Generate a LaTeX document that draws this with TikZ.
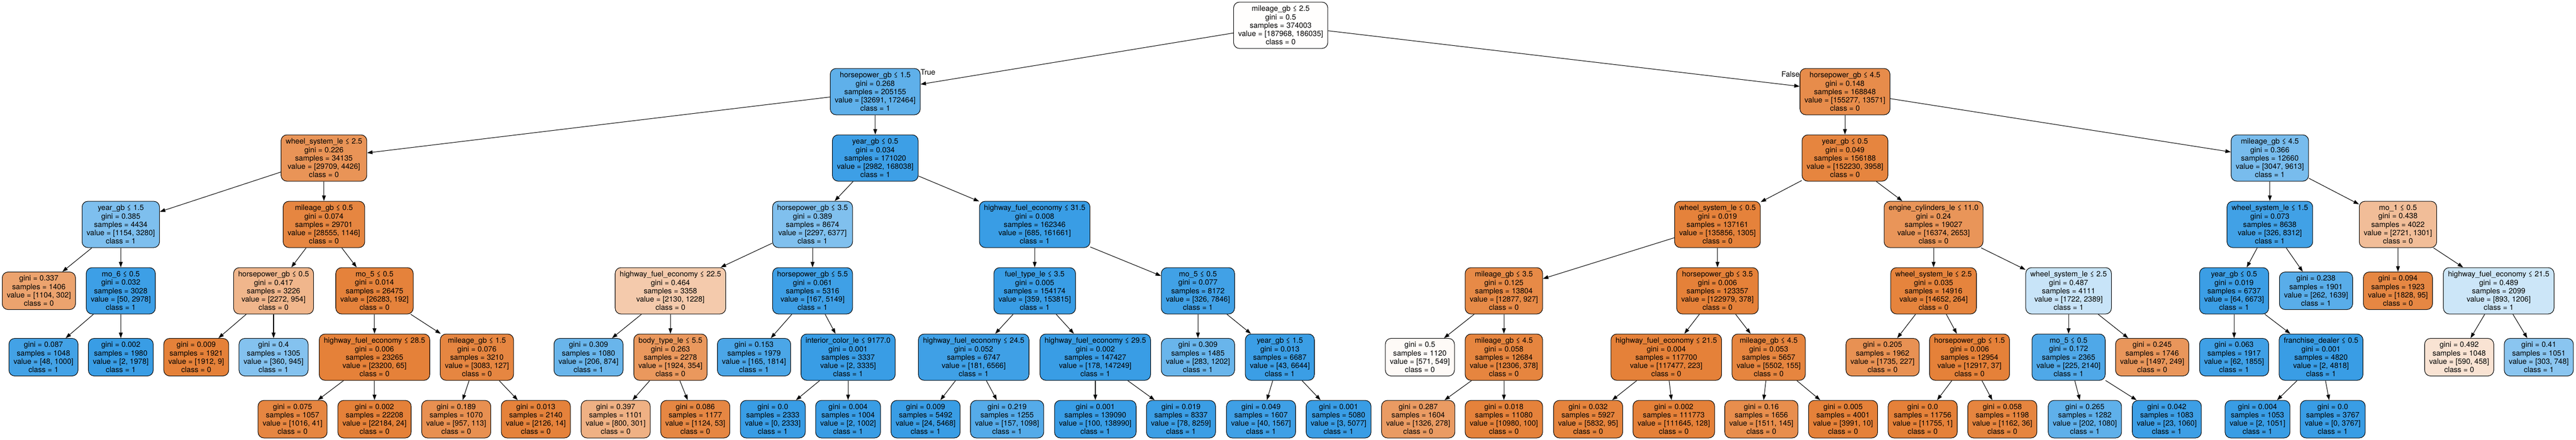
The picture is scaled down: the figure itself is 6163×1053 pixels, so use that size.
\documentclass[tikz,border=0pt]{standalone}
\usepackage{fontspec}
\setmainfont{TeX Gyre Heros}
\usetikzlibrary{positioning, arrows.meta}
\definecolor{clsA}{RGB}{229,129,57}
\definecolor{clsB}{RGB}{57,157,229}

\begin{document}
\begin{tikzpicture}
	[node distance=159pt]

	\tikzstyle{splitbox} = [rectangle, rounded corners=14pt, minimum height=111pt, inner xsep=11pt, inner ysep=2pt, align=center, draw=black, line width=1.3pt, text=black, font=\fontsize{18pt}{20pt}\selectfont]

	\tikzstyle{leafbox} = [splitbox, minimum height=90pt]

	\tikzstyle{lbl} = [inner sep=0pt, font=\fontsize{18pt}{20pt}\selectfont]

	\tikzstyle{arrow} = [line width=1.3pt, ->, >={Triangle[length=13pt,width=9pt]}]

	\useasboundingbox (0,0) rectangle (6163pt,-1053pt);

	% root and first split
	\node (root) [splitbox, fill=clsA!1!white] at (3064pt,-60.5pt) {mileage\_gb ≤ 2.5\\gini = 0.5\\samples = 374003\\value = [187968, 186035]\\class = 0};
	\node (hpA) [splitbox, fill=clsB!81!white, below of=root, xshift=-970pt] {horsepower\_gb ≤ 1.5\\gini = 0.268\\samples = 205155\\value = [32691, 172464]\\class = 1};
	\node (hpB) [splitbox, fill=clsA!91!white, below of=root, xshift=1350pt] {horsepower\_gb ≤ 4.5\\gini = 0.148\\samples = 168848\\value = [155277, 13571]\\class = 0};

	% depth 2
	\node (wsA) [splitbox, fill=clsA!85!white, below of=hpA, xshift=-1319pt] {wheel\_system\_le ≤ 2.5\\gini = 0.226\\samples = 34135\\value = [29709, 4426]\\class = 0};
	\node (yrA) [splitbox, fill=clsB!98!white, below of=hpA] {year\_gb ≤ 0.5\\gini = 0.034\\samples = 171020\\value = [2982, 168038]\\class = 1};
	\node (yrB) [splitbox, fill=clsA!97!white, below of=hpB] {year\_gb ≤ 0.5\\gini = 0.049\\samples = 156188\\value = [152230, 3958]\\class = 0};
	\node (mgA) [splitbox, fill=clsB!68!white, below of=hpB, xshift=1016.5pt] {mileage\_gb ≤ 4.5\\gini = 0.366\\samples = 12660\\value = [3047, 9613]\\class = 1};

	% depth 3
	\node (yrC) [splitbox, fill=clsB!65!white, below of=wsA, xshift=-486pt] {year\_gb ≤ 1.5\\gini = 0.385\\samples = 4434\\value = [1154, 3280]\\class = 1};
	\node (mgB) [splitbox, fill=clsA!96!white, below of=wsA] {mileage\_gb ≤ 0.5\\gini = 0.074\\samples = 29701\\value = [28555, 1146]\\class = 0};
	\node (hpC) [splitbox, fill=clsB!64!white, below of=yrA, xshift=-150pt] {horsepower\_gb ≤ 3.5\\gini = 0.389\\samples = 8674\\value = [2297, 6377]\\class = 1};
	\node (hwA) [splitbox, fill=clsB!100!white, below of=yrA, xshift=381.5pt] {highway\_fuel\_economy ≤ 31.5\\gini = 0.008\\samples = 162346\\value = [685, 161661]\\class = 1};
	\node (wsB) [splitbox, fill=clsA!99!white, below of=yrB, xshift=-305pt] {wheel\_system\_le ≤ 0.5\\gini = 0.019\\samples = 137161\\value = [135856, 1305]\\class = 0};
	\node (ecA) [splitbox, fill=clsA!84!white, below of=yrB, xshift=212pt] {engine\_cylinders\_le ≤ 11.0\\gini = 0.24\\samples = 19027\\value = [16374, 2653]\\class = 0};
	\node (wsC) [splitbox, fill=clsB!96!white, below of=mgA] {wheel\_system\_le ≤ 1.5\\gini = 0.073\\samples = 8638\\value = [326, 8312]\\class = 1};
	\node (moA) [splitbox, fill=clsA!52!white, below of=mgA, xshift=306.5pt] {mo\_1 ≤ 0.5\\gini = 0.438\\samples = 4022\\value = [2721, 1301]\\class = 0};

	% depth 4
	\node (lf1406) [leafbox, fill=clsA!73!white, below of=yrC, xshift=-196pt] {gini = 0.337\\samples = 1406\\value = [1104, 302]\\class = 0};
	\node (moB) [splitbox, fill=clsB!98!white, below of=yrC] {mo\_6 ≤ 0.5\\gini = 0.032\\samples = 3028\\value = [50, 2978]\\class = 1};
	\node (hpD) [splitbox, fill=clsA!58!white, below of=mgB, xshift=-120.5pt] {horsepower\_gb ≤ 0.5\\gini = 0.417\\samples = 3226\\value = [2272, 954]\\class = 0};
	\node (moC) [splitbox, fill=clsA!99!white, below of=mgB, xshift=121pt] {mo\_5 ≤ 0.5\\gini = 0.014\\samples = 26475\\value = [26283, 192]\\class = 0};
	\node (hwB) [splitbox, fill=clsA!42!white, below of=hpC, xshift=-340pt] {highway\_fuel\_economy ≤ 22.5\\gini = 0.464\\samples = 3358\\value = [2130, 1228]\\class = 0};
	\node (hpE) [splitbox, fill=clsB!97!white, below of=hpC] {horsepower\_gb ≤ 5.5\\gini = 0.061\\samples = 5316\\value = [167, 5149]\\class = 1};
	\node (ftA) [splitbox, fill=clsB!100!white, below of=hwA] {fuel\_type\_le ≤ 3.5\\gini = 0.005\\samples = 154174\\value = [359, 153815]\\class = 1};
	\node (moD) [splitbox, fill=clsB!96!white, below of=hwA, xshift=390.5pt] {mo\_5 ≤ 0.5\\gini = 0.077\\samples = 8172\\value = [326, 7846]\\class = 1};
	\node (mgC) [splitbox, fill=clsA!93!white, below of=wsB, xshift=-511pt] {mileage\_gb ≤ 3.5\\gini = 0.125\\samples = 13804\\value = [12877, 927]\\class = 0};
	\node (hpF) [splitbox, fill=clsA!100!white, below of=wsB] {horsepower\_gb ≤ 3.5\\gini = 0.006\\samples = 123357\\value = [122979, 378]\\class = 0};
	\node (wsD) [splitbox, fill=clsA!98!white, below of=ecA] {wheel\_system\_le ≤ 2.5\\gini = 0.035\\samples = 14916\\value = [14652, 264]\\class = 0};
	\node (wsE) [splitbox, fill=clsB!28!white, below of=ecA, xshift=323pt] {wheel\_system\_le ≤ 2.5\\gini = 0.487\\samples = 4111\\value = [1722, 2389]\\class = 1};
	\node (yrD) [splitbox, fill=clsB!99!white, below of=wsC, xshift=-85.5pt] {year\_gb ≤ 0.5\\gini = 0.019\\samples = 6737\\value = [64, 6673]\\class = 1};
	\node (lf1901) [leafbox, fill=clsB!84!white, below of=wsC, xshift=110.5pt] {gini = 0.238\\samples = 1901\\value = [262, 1639]\\class = 1};
	\node (lf1923) [leafbox, fill=clsA!95!white, below of=moA] {gini = 0.094\\samples = 1923\\value = [1828, 95]\\class = 0};
	\node (hwC) [splitbox, fill=clsB!26!white, below of=moA, xshift=241pt] {highway\_fuel\_economy ≤ 21.5\\gini = 0.489\\samples = 2099\\value = [893, 1206]\\class = 1};

	% depth 5
	\node (lf1048a) [leafbox, fill=clsB!95!white, below of=moB, xshift=-185pt] {gini = 0.087\\samples = 1048\\value = [48, 1000]\\class = 1};
	\node (lf1980) [leafbox, fill=clsB!100!white, below of=moB] {gini = 0.002\\samples = 1980\\value = [2, 1978]\\class = 1};
	\node (lf1921) [leafbox, fill=clsA!100!white, below of=hpD, xshift=-185pt] {gini = 0.009\\samples = 1921\\value = [1912, 9]\\class = 0};
	\node (lf1305) [leafbox, fill=clsB!62!white, below of=hpD] {gini = 0.4\\samples = 1305\\value = [360, 945]\\class = 1};
	\node (hwD) [splitbox, fill=clsA!100!white, below of=moC] {highway\_fuel\_economy ≤ 28.5\\gini = 0.006\\samples = 23265\\value = [23200, 65]\\class = 0};
	\node (mgD) [splitbox, fill=clsA!96!white, below of=moC, xshift=245pt] {mileage\_gb ≤ 1.5\\gini = 0.076\\samples = 3210\\value = [3083, 127]\\class = 0};
	\node (lf1080) [leafbox, fill=clsB!76!white, below of=hwB, xshift=-196pt] {gini = 0.309\\samples = 1080\\value = [206, 874]\\class = 1};
	\node (btA) [splitbox, fill=clsA!82!white, below of=hwB] {body\_type\_le ≤ 5.5\\gini = 0.263\\samples = 2278\\value = [1924, 354]\\class = 0};
	\node (lf1979) [leafbox, fill=clsB!91!white, below of=hpE, xshift=-140pt] {gini = 0.153\\samples = 1979\\value = [165, 1814]\\class = 1};
	\node (icA) [splitbox, fill=clsB!100!white, below of=hpE, xshift=85pt] {interior\_color\_le ≤ 9177.0\\gini = 0.001\\samples = 3337\\value = [2, 3335]\\class = 1};
	\node (hwE) [splitbox, fill=clsB!97!white, below of=ftA, xshift=-146pt] {highway\_fuel\_economy ≤ 24.5\\gini = 0.052\\samples = 6747\\value = [181, 6566]\\class = 1};
	\node (hwF) [splitbox, fill=clsB!100!white, below of=ftA, xshift=145pt] {highway\_fuel\_economy ≤ 29.5\\gini = 0.002\\samples = 147427\\value = [178, 147249]\\class = 1};
	\node (lf1485) [leafbox, fill=clsB!76!white, below of=moD] {gini = 0.309\\samples = 1485\\value = [283, 1202]\\class = 1};
	\node (yrE) [splitbox, fill=clsB!99!white, below of=moD, xshift=196pt] {year\_gb ≤ 1.5\\gini = 0.013\\samples = 6687\\value = [43, 6644]\\class = 1};
	\node (lf1120) [leafbox, fill=clsA!4!white, below of=mgC, xshift=-201pt] {gini = 0.5\\samples = 1120\\value = [571, 549]\\class = 0};
	\node (mgE) [splitbox, fill=clsA!97!white, below of=mgC] {mileage\_gb ≤ 4.5\\gini = 0.058\\samples = 12684\\value = [12306, 378]\\class = 0};
	\node (hwG) [splitbox, fill=clsA!100!white, below of=hpF, xshift=-122.5pt] {highway\_fuel\_economy ≤ 21.5\\gini = 0.004\\samples = 117700\\value = [117477, 223]\\class = 0};
	\node (mgF) [splitbox, fill=clsA!97!white, below of=hpF, xshift=122.5pt] {mileage\_gb ≤ 4.5\\gini = 0.053\\samples = 5657\\value = [5502, 155]\\class = 0};
	\node (lf1962) [leafbox, fill=clsA!87!white, below of=wsD, xshift=-122pt] {gini = 0.205\\samples = 1962\\value = [1735, 227]\\class = 0};
	\node (hpG) [splitbox, fill=clsA!100!white, below of=wsD, xshift=86pt] {horsepower\_gb ≤ 1.5\\gini = 0.006\\samples = 12954\\value = [12917, 37]\\class = 0};
	\node (moE) [splitbox, fill=clsB!89!white, below of=wsE] {mo\_5 ≤ 0.5\\gini = 0.172\\samples = 2365\\value = [225, 2140]\\class = 1};
	\node (lf1746) [leafbox, fill=clsA!83!white, below of=wsE, xshift=200pt] {gini = 0.245\\samples = 1746\\value = [1497, 249]\\class = 0};
	\node (lf1917) [leafbox, fill=clsB!97!white, below of=yrD] {gini = 0.063\\samples = 1917\\value = [62, 1855]\\class = 1};
	\node (fdA) [splitbox, fill=clsB!100!white, below of=yrD, xshift=208pt] {franchise\_dealer ≤ 0.5\\gini = 0.001\\samples = 4820\\value = [2, 4818]\\class = 1};
	\node (lf1048b) [leafbox, fill=clsA!22!white, below of=hwC, xshift=-94.5pt] {gini = 0.492\\samples = 1048\\value = [590, 458]\\class = 0};
	\node (lf1051) [leafbox, fill=clsB!59!white, below of=hwC, xshift=96pt] {gini = 0.41\\samples = 1051\\value = [303, 748]\\class = 1};

	% depth 6
	\node (lf1057) [leafbox, fill=clsA!96!white, below of=hwD, xshift=-196pt, yshift=10.5pt] {gini = 0.075\\samples = 1057\\value = [1016, 41]\\class = 0};
	\node (lf22208) [leafbox, fill=clsA!100!white, below of=hwD, yshift=10.5pt] {gini = 0.002\\samples = 22208\\value = [22184, 24]\\class = 0};
	\node (lf1070) [leafbox, fill=clsA!88!white, below of=mgD, xshift=-49.5pt, yshift=10.5pt] {gini = 0.189\\samples = 1070\\value = [957, 113]\\class = 0};
	\node (lf2140) [leafbox, fill=clsA!99!white, below of=mgD, xshift=141pt, yshift=10.5pt] {gini = 0.013\\samples = 2140\\value = [2126, 14]\\class = 0};
	\node (lf1101) [leafbox, fill=clsA!62!white, below of=btA, xshift=-131pt, yshift=10.5pt] {gini = 0.397\\samples = 1101\\value = [800, 301]\\class = 0};
	\node (lf1177) [leafbox, fill=clsA!95!white, below of=btA, xshift=59.5pt, yshift=10.5pt] {gini = 0.086\\samples = 1177\\value = [1124, 53]\\class = 0};
	\node (lf2333) [leafbox, fill=clsB!100!white, below of=icA, xshift=-180pt, yshift=10.5pt] {gini = 0.0\\samples = 2333\\value = [0, 2333]\\class = 1};
	\node (lf1004) [leafbox, fill=clsB!100!white, below of=icA, yshift=10.5pt] {gini = 0.004\\samples = 1004\\value = [2, 1002]\\class = 1};
	\node (lf5492) [leafbox, fill=clsB!100!white, below of=hwE, xshift=-115pt, yshift=10.5pt] {gini = 0.009\\samples = 5492\\value = [24, 5468]\\class = 1};
	\node (lf1255) [leafbox, fill=clsB!86!white, below of=hwE, xshift=80pt, yshift=10.5pt] {gini = 0.219\\samples = 1255\\value = [157, 1098]\\class = 1};
	\node (lf139090) [leafbox, fill=clsB!100!white, below of=hwF, yshift=10.5pt] {gini = 0.001\\samples = 139090\\value = [100, 138990]\\class = 1};
	\node (lf8337) [leafbox, fill=clsB!99!white, below of=hwF, xshift=205pt, yshift=10.5pt] {gini = 0.019\\samples = 8337\\value = [78, 8259]\\class = 1};
	\node (lf1607) [leafbox, fill=clsB!97!white, below of=yrE, xshift=-45pt, yshift=10.5pt] {gini = 0.049\\samples = 1607\\value = [40, 1567]\\class = 1};
	\node (lf5080) [leafbox, fill=clsB!100!white, below of=yrE, xshift=140.5pt, yshift=10.5pt] {gini = 0.001\\samples = 5080\\value = [3, 5077]\\class = 1};
	\node (lf1604) [leafbox, fill=clsA!79!white, below of=mgE, xshift=-205pt, yshift=10.5pt] {gini = 0.287\\samples = 1604\\value = [1326, 278]\\class = 0};
	\node (lf11080) [leafbox, fill=clsA!99!white, below of=mgE, yshift=10.5pt] {gini = 0.018\\samples = 11080\\value = [10980, 100]\\class = 0};
	\node (lf5927) [leafbox, fill=clsA!98!white, below of=hwG, xshift=-187pt, yshift=10.5pt] {gini = 0.032\\samples = 5927\\value = [5832, 95]\\class = 0};
	\node (lf111773) [leafbox, fill=clsA!100!white, below of=hwG, xshift=18pt, yshift=10.5pt] {gini = 0.002\\samples = 111773\\value = [111645, 128]\\class = 0};
	\node (lf1656) [leafbox, fill=clsA!90!white, below of=mgF, xshift=-17.5pt, yshift=10.5pt] {gini = 0.16\\samples = 1656\\value = [1511, 145]\\class = 0};
	\node (lf4001) [leafbox, fill=clsA!100!white, below of=mgF, xshift=178pt, yshift=10.5pt] {gini = 0.005\\samples = 4001\\value = [3991, 10]\\class = 0};
	\node (lf11756) [leafbox, fill=clsA!100!white, below of=hpG, xshift=-112pt, yshift=10.5pt] {gini = 0.0\\samples = 11756\\value = [11755, 1]\\class = 0};
	\node (lf1198) [leafbox, fill=clsA!97!white, below of=hpG, xshift=78.5pt, yshift=10.5pt] {gini = 0.058\\samples = 1198\\value = [1162, 36]\\class = 0};
	\node (lf1282) [leafbox, fill=clsB!81!white, below of=moE, xshift=39pt, yshift=10.5pt] {gini = 0.265\\samples = 1282\\value = [202, 1080]\\class = 1};
	\node (lf1083) [leafbox, fill=clsB!98!white, below of=moE, xshift=235pt, yshift=10.5pt] {gini = 0.042\\samples = 1083\\value = [23, 1060]\\class = 1};
	\node (lf1053) [leafbox, fill=clsB!100!white, below of=fdA, xshift=-152pt, yshift=10.5pt] {gini = 0.004\\samples = 1053\\value = [2, 1051]\\class = 1};
	\node (lf3767) [leafbox, fill=clsB!100!white, below of=fdA, xshift=28pt, yshift=10.5pt] {gini = 0.0\\samples = 3767\\value = [0, 3767]\\class = 1};

	% edges
	\draw [arrow] (root) -- (hpA);
	\draw [arrow] (root) -- (hpB);
	\draw [arrow] (hpA) -- (wsA);
	\draw [arrow] (hpA) -- (yrA);
	\draw [arrow] (hpB) -- (yrB);
	\draw [arrow] (hpB) -- (mgA);
	\draw [arrow] (wsA) -- (yrC);
	\draw [arrow] (wsA) -- (mgB);
	\draw [arrow] (yrA) -- (hpC);
	\draw [arrow] (yrA) -- (hwA);
	\draw [arrow] (yrB) -- (wsB);
	\draw [arrow] (yrB) -- (ecA);
	\draw [arrow] (mgA) -- (wsC);
	\draw [arrow] (mgA) -- (moA);
	\draw [arrow] (yrC) -- (lf1406);
	\draw [arrow] (yrC) -- (moB);
	\draw [arrow] (mgB) -- (hpD);
	\draw [arrow] (mgB) -- (moC);
	\draw [arrow] (hpC) -- (hwB);
	\draw [arrow] (hpC) -- (hpE);
	\draw [arrow] (hwA) -- (ftA);
	\draw [arrow] (hwA) -- (moD);
	\draw [arrow] (wsB) -- (mgC);
	\draw [arrow] (wsB) -- (hpF);
	\draw [arrow] (ecA) -- (wsD);
	\draw [arrow] (ecA) -- (wsE);
	\draw [arrow] (wsC) -- (yrD);
	\draw [arrow] (wsC) -- (lf1901);
	\draw [arrow] (moA) -- (lf1923);
	\draw [arrow] (moA) -- (hwC);
	\draw [arrow] (moB) -- (lf1048a);
	\draw [arrow] (moB) -- (lf1980);
	\draw [arrow] (hpD) -- (lf1921);
	\draw [arrow] (hpD) -- (lf1305);
	\draw [arrow] (moC) -- (hwD);
	\draw [arrow] (moC) -- (mgD);
	\draw [arrow] (hwB) -- (lf1080);
	\draw [arrow] (hwB) -- (btA);
	\draw [arrow] (hpE) -- (lf1979);
	\draw [arrow] (hpE) -- (icA);
	\draw [arrow] (ftA) -- (hwE);
	\draw [arrow] (ftA) -- (hwF);
	\draw [arrow] (moD) -- (lf1485);
	\draw [arrow] (moD) -- (yrE);
	\draw [arrow] (mgC) -- (lf1120);
	\draw [arrow] (mgC) -- (mgE);
	\draw [arrow] (hpF) -- (hwG);
	\draw [arrow] (hpF) -- (mgF);
	\draw [arrow] (wsD) -- (lf1962);
	\draw [arrow] (wsD) -- (hpG);
	\draw [arrow] (wsE) -- (moE);
	\draw [arrow] (wsE) -- (lf1746);
	\draw [arrow] (yrD) -- (lf1917);
	\draw [arrow] (yrD) -- (fdA);
	\draw [arrow] (hwC) -- (lf1048b);
	\draw [arrow] (hwC) -- (lf1051);
	\draw [arrow] (hwD) -- (lf1057);
	\draw [arrow] (hwD) -- (lf22208);
	\draw [arrow] (mgD) -- (lf1070);
	\draw [arrow] (mgD) -- (lf2140);
	\draw [arrow] (btA) -- (lf1101);
	\draw [arrow] (btA) -- (lf1177);
	\draw [arrow] (icA) -- (lf2333);
	\draw [arrow] (icA) -- (lf1004);
	\draw [arrow] (hwE) -- (lf5492);
	\draw [arrow] (hwE) -- (lf1255);
	\draw [arrow] (hwF) -- (lf139090);
	\draw [arrow] (hwF) -- (lf8337);
	\draw [arrow] (yrE) -- (lf1607);
	\draw [arrow] (yrE) -- (lf5080);
	\draw [arrow] (mgE) -- (lf1604);
	\draw [arrow] (mgE) -- (lf11080);
	\draw [arrow] (hwG) -- (lf5927);
	\draw [arrow] (hwG) -- (lf111773);
	\draw [arrow] (mgF) -- (lf1656);
	\draw [arrow] (mgF) -- (lf4001);
	\draw [arrow] (hpG) -- (lf11756);
	\draw [arrow] (hpG) -- (lf1198);
	\draw [arrow] (moE) -- (lf1282);
	\draw [arrow] (moE) -- (lf1083);
	\draw [arrow] (fdA) -- (lf1053);
	\draw [arrow] (fdA) -- (lf3767);

	% branch labels
	\node (tru) [lbl, anchor=west] at ([yshift=-9pt]hpA.north east) {True};
	\node (fls) [lbl, anchor=east] at ([yshift=-15pt]hpB.north west) {False};

\end{tikzpicture}
\end{document}
